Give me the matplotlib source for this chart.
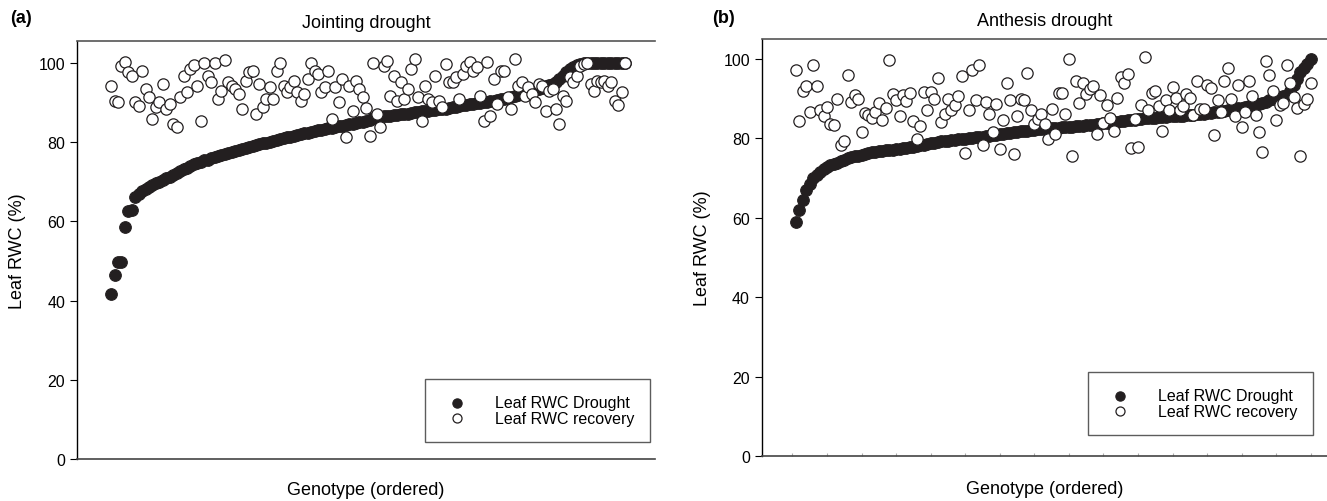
# Leaf RWC under drought and after recovery, genotypes ordered by drought RWC

import numpy as np
import matplotlib
matplotlib.use('Agg')
from matplotlib import pyplot as plt

plt.rcParams['font.family'] = ['Liberation Sans', 'DejaVu Sans']

# panel (a): jointing drought
drought_a = [41.7, 46.5, 49.8, 49.8, 58.7, 62.7, 62.8, 66.2, 67.0, 67.6,
             68.3, 68.8, 69.3, 69.6, 70.0, 70.4, 70.9, 71.2, 71.6, 72.1,
             72.8, 73.2, 73.5, 74.0, 74.4, 74.8, 75.1, 75.4, 75.6, 75.9,
             76.2, 76.5, 76.7, 77.0, 77.3, 77.5, 77.8, 78.1, 78.3, 78.5,
             78.8, 79.0, 79.2, 79.5, 79.7, 79.9, 80.1, 80.3, 80.6, 80.8,
             81.0, 81.2, 81.4, 81.6, 81.8, 82.0, 82.2, 82.4, 82.6, 82.8,
             83.0, 83.2, 83.3, 83.5, 83.6, 83.8, 84.0, 84.1, 84.3, 84.5,
             84.6, 84.8, 85.0, 85.2, 85.4, 85.7, 86.0, 86.2, 86.4, 86.5,
             86.6, 86.7, 86.8, 86.9, 87.0, 87.1, 87.2, 87.3, 87.5, 87.6,
             87.8, 87.9, 88.0, 88.1, 88.2, 88.3, 88.4, 88.5, 88.7, 88.8,
             89.0, 89.1, 89.3, 89.4, 89.6, 89.7, 89.9, 90.0, 90.1, 90.2,
             90.4, 90.5, 90.6, 90.8, 91.0, 91.2, 91.4, 91.7, 92.0, 92.2,
             92.4, 92.6, 92.9, 93.2, 93.5, 93.8, 94.1, 94.4, 94.7, 95.2,
             96.0, 96.8, 97.6, 98.4, 99.0, 99.5, 99.8, 100.0, 100.0, 100.0,
             100.0, 100.0, 100.0, 100.0, 100.0, 100.0, 100.0, 100.0, 100.0, 100.0]
recovery_a = [94.3, 90.5, 90.2, 99.3, 100.2, 97.7, 96.8, 90.2, 89.2, 97.9,
              93.4, 91.3, 85.9, 88.8, 90.1, 94.7, 88.4, 89.6, 84.6, 83.8,
              91.3, 96.8, 92.6, 98.5, 99.5, 94.3, 85.4, 100.0, 96.8, 95.1,
              100.0, 90.9, 93.0, 100.8, 95.2, 94.3, 93.4, 92.2, 88.4, 95.5,
              97.6, 98.1, 87.1, 94.7, 88.8, 90.9, 93.9, 90.9, 98.1, 100.0,
              94.3, 92.6, 93.9, 95.5, 92.6, 90.5, 92.2, 96.0, 100.0, 98.1,
              97.2, 92.6, 93.9, 98.1, 85.9, 93.9, 90.1, 96.0, 81.2, 94.3,
              88.0, 95.5, 93.4, 91.3, 88.6, 81.6, 100.0, 87.1, 83.8, 99.3,
              100.6, 91.7, 96.8, 90.5, 95.1, 90.9, 93.4, 98.5, 101.0, 91.3,
              85.4, 94.3, 90.9, 90.1, 96.8, 90.5, 88.8, 99.7, 95.1, 95.1,
              96.4, 90.9, 97.2, 99.3, 100.2, 98.1, 98.9, 91.7, 85.4, 100.2,
              86.7, 96.0, 89.6, 98.1, 97.9, 91.3, 88.4, 101.0, 94.3, 95.1,
              91.7, 93.9, 92.2, 90.1, 94.7, 94.3, 88.0, 93.0, 93.4, 88.4,
              84.6, 91.7, 90.5, 96.4, 95.1, 96.8, 99.3, 99.7, 100.0, 94.7,
              93.0, 95.5, 95.1, 95.5, 94.3, 95.1, 90.5, 89.4, 92.6, 100.0]

# panel (b): anthesis drought
drought_b = [59.0, 61.8, 64.5, 67.0, 68.5, 69.9, 70.8, 71.6, 72.3, 72.8,
             73.2, 73.5, 73.8, 74.2, 74.6, 74.9, 75.2, 75.4, 75.6, 75.8,
             76.0, 76.2, 76.4, 76.5, 76.7, 76.8, 76.9, 77.0, 77.1, 77.3,
             77.4, 77.5, 77.6, 77.7, 77.8, 78.0, 78.2, 78.4, 78.6, 78.7,
             78.9, 79.0, 79.2, 79.3, 79.4, 79.5, 79.6, 79.7, 79.8, 79.9,
             80.0, 80.1, 80.2, 80.3, 80.4, 80.5, 80.6, 80.8, 80.9, 81.0,
             81.1, 81.3, 81.4, 81.5, 81.6, 81.7, 81.8, 81.9, 82.0, 82.1,
             82.2, 82.3, 82.4, 82.4, 82.5, 82.6, 82.6, 82.7, 82.8, 82.8,
             82.9, 83.0, 83.0, 83.1, 83.2, 83.3, 83.4, 83.5, 83.6, 83.7,
             83.8, 83.9, 84.0, 84.1, 84.3, 84.4, 84.5, 84.6, 84.7, 84.8,
             84.9, 85.0, 85.0, 85.1, 85.2, 85.3, 85.3, 85.4, 85.5, 85.5,
             85.6, 85.7, 85.7, 85.8, 85.9, 85.9, 86.0, 86.1, 86.2, 86.3,
             86.4, 86.6, 86.7, 86.8, 86.9, 87.0, 87.2, 87.3, 87.5, 87.7,
             87.9, 88.1, 88.3, 88.5, 88.7, 88.9, 89.2, 89.5, 89.8, 90.1,
             90.4, 90.6, 90.8, 92.0, 93.3, 94.9, 96.6, 97.6, 98.7, 100.0]
recovery_b = [97.2, 84.2, 92.0, 93.1, 86.6, 98.5, 93.1, 87.2, 85.7, 87.8,
              83.6, 83.2, 89.9, 78.2, 79.2, 96.0, 89.1, 90.9, 89.9, 81.5,
              86.4, 85.9, 85.1, 86.7, 88.9, 84.7, 87.7, 99.6, 91.2, 89.5,
              85.7, 90.8, 89.3, 91.4, 84.2, 79.8, 83.0, 91.6, 87.2, 91.6,
              89.9, 95.1, 84.1, 86.1, 89.9, 87.0, 88.4, 90.6, 95.6, 76.3,
              87.2, 97.1, 89.7, 98.5, 78.2, 89.1, 86.1, 81.5, 88.7, 77.2,
              84.5, 94.0, 89.7, 76.1, 85.6, 89.9, 89.5, 96.5, 87.0, 83.6,
              84.8, 86.1, 83.6, 79.7, 87.4, 81.1, 91.4, 91.4, 86.1, 100.0,
              75.6, 94.3, 88.9, 94.0, 91.2, 92.3, 93.1, 81.1, 90.9, 83.9,
              88.4, 85.1, 81.9, 90.1, 95.4, 94.0, 96.2, 77.5, 84.9, 77.8,
              88.4, 100.4, 87.2, 91.4, 91.8, 88.1, 81.7, 89.5, 87.0, 92.9,
              90.1, 87.0, 88.2, 91.2, 90.1, 85.8, 94.5, 87.4, 87.4, 93.3,
              92.6, 80.9, 89.5, 86.7, 94.4, 97.7, 89.9, 85.7, 93.5, 82.8,
              86.7, 94.4, 90.6, 85.9, 81.5, 76.5, 99.4, 95.8, 92.0, 84.7,
              88.4, 88.9, 98.5, 94.0, 90.4, 87.7, 75.5, 88.7, 89.9, 94.0]

titles = ['Jointing drought', 'Anthesis drought']
letters = ['(a)', '(b)']

ink = '#231f20'

fig = plt.figure(figsize=(13.27, 5.02), dpi=100)
ax_a = fig.add_axes([0.058, 0.0837, 0.4356, 0.833])
ax_b = fig.add_axes([0.574, 0.0896, 0.4258, 0.831])

panels = [(ax_a, drought_a, recovery_a, (-8.9, 158.7), 105.6, (1.0, 0.03), 16),
          (ax_b, drought_b, recovery_b, (-8.9, 154.6), 105.0, (0.985, 0.04), 14)]

for k, (ax, d, r, xl, ytop, anchor, xpad) in enumerate(panels):
    x = np.arange(1, len(d) + 1)
    ax.scatter(x, d, s=70, color=ink, edgecolors=ink, linewidths=0.8,
               label='Leaf RWC Drought', zorder=2)
    ax.scatter(x, r, s=66, facecolors='white', edgecolors=ink, linewidths=0.9,
               label='Leaf RWC recovery', zorder=3)
    ax.set_xlim(*xl)
    ax.set_ylim(0, ytop)
    ax.set_yticks([0, 20, 40, 60, 80, 100])
    ax.tick_params(axis='y', direction='out', length=5, width=0.8,
                   labelsize=11.5, colors='black')
    ax.spines['right'].set_visible(False)
    ax.spines['top'].set_color('#555555')
    ax.spines['top'].set_linewidth(1.2)
    ax.spines['bottom'].set_color('#444444')
    ax.spines['bottom'].set_linewidth(1.2)
    ax.spines['left'].set_linewidth(1.0)
    ax.set_ylabel('Leaf RWC (%)', fontsize=13, labelpad=9)
    ax.set_xlabel('Genotype (ordered)', fontsize=13, labelpad=xpad)
    ax.set_title(titles[k], fontsize=13, pad=10)
    leg = ax.legend(loc='lower right', fontsize=11.5, frameon=True, fancybox=False,
                    markerscale=0.8, borderpad=1.0, handletextpad=1.4,
                    labelspacing=0.05, borderaxespad=0.3,
                    bbox_to_anchor=anchor)
    leg.get_frame().set_edgecolor('#333333')
    leg.get_frame().set_linewidth(1.0)

ax_a.set_xticks([])
ax_b.set_xticks(np.arange(0, 151, 10))
ax_b.set_xticklabels([])
ax_b.tick_params(axis='x', direction='in', length=2, width=0.8, colors='#aaaaaa')

fig.text(0.008, 0.955, letters[0], fontsize=13, fontweight='bold')
fig.text(0.537, 0.955, letters[1], fontsize=13, fontweight='bold')

plt.savefig('out.png', dpi=100)
